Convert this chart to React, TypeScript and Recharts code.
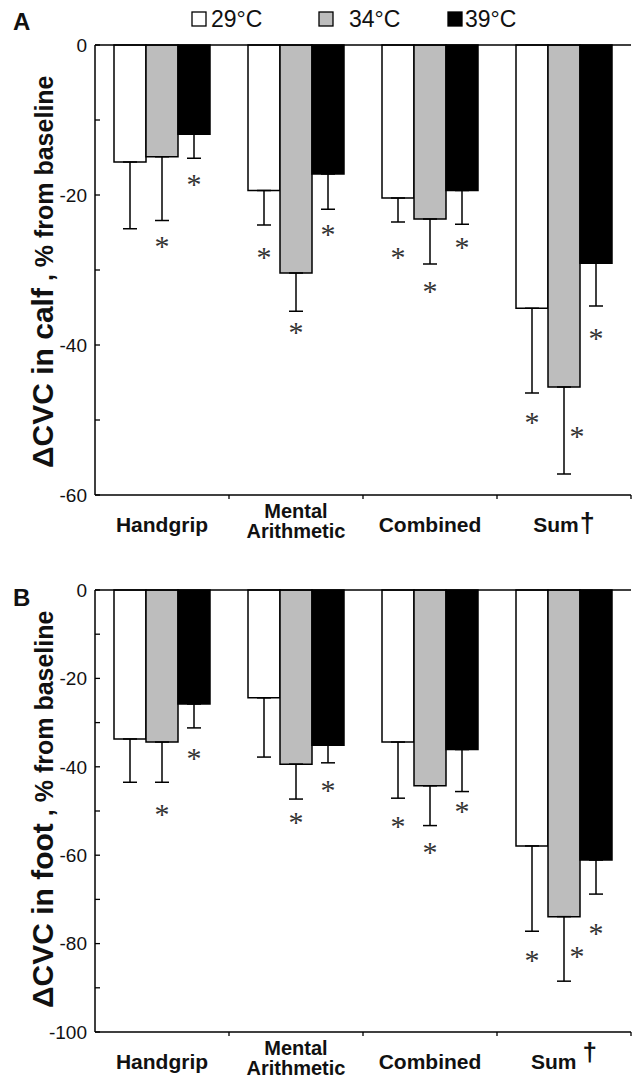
import { BarChart, Bar, XAxis, YAxis, ErrorBar, LabelList, ReferenceLine } from "recharts";

const categories = ["Handgrip", "Mental Arithmetic", "Combined", "Sum"];
const temps = ["29°C", "34°C", "39°C"];

// Panel A - calf
const calfMean29 = [-15.6, -19.4, -20.4, -35.1];
const calfMean34 = [-14.9, -30.4, -23.2, -45.6];
const calfMean39 = [-11.9, -17.2, -19.4, -29.1];
const calfSd29 = [8.9, 4.6, 3.2, 11.3];
const calfSd34 = [8.5, 5.1, 6.0, 11.6];
const calfSd39 = [3.2, 4.7, 4.5, 5.7];
// where the * marks sit (null = not significant)
const calfStar29 = [null, -27.7, -27.7, -49.7];
const calfStar34 = [-26.3, -37.7, -32.3, -51.6];
const calfStar39 = [-18.0, -24.7, -26.4, -38.5];

// Panel B - foot
const footMean29 = [-33.7, -24.4, -34.4, -57.9];
const footMean34 = [-34.4, -39.4, -44.3, -73.9];
const footMean39 = [-25.8, -35.1, -36.1, -61.1];
const footSd29 = [9.8, 13.4, 12.7, 19.3];
const footSd34 = [9.1, 7.9, 9.0, 14.6];
const footSd39 = [5.4, 4.0, 9.5, 7.7];
const footStar29 = [null, null, -52.5, -82.8];
const footStar34 = [-49.8, -51.6, -58.4, -81.9];
const footStar39 = [-37.1, -44.3, -49.2, -76.7];

const calfTicks = [0, -10, -20, -30, -40, -50, -60];
const footTicks = [0, -10, -20, -30, -40, -50, -60, -70, -80, -90, -100];

const FONT = "'Liberation Sans', Arial, Helvetica, sans-serif";
const AXIS_X = 95;
const PLOT_RIGHT = 631;
const HALF_BAND = (PLOT_RIGHT - AXIS_X) / categories.length / 2;

type Row = Record<string, any>;

function buildRows(
  m29: number[], m34: number[], m39: number[],
  s29: number[], s34: number[], s39: number[],
  a29: (number | null)[], a34: (number | null)[], a39: (number | null)[]
): Row[] {
  return categories.map((name, i) => ({
    name,
    m29: m29[i], m34: m34[i], m39: m39[i],
    e29: [s29[i], 0], e34: [s34[i], 0], e39: [s39[i], 0],
    a29: a29[i], a34: a34[i], a39: a39[i],
  }));
}

const calfRows = buildRows(calfMean29, calfMean34, calfMean39, calfSd29, calfSd34, calfSd39, calfStar29, calfStar34, calfStar39);
const footRows = buildRows(footMean29, footMean34, footMean39, footSd29, footSd34, footSd39, footStar29, footStar34, footStar39);

function makeStar(rows: Row[], key: string) {
  return (props: any) => {
    const { index } = props;
    const row = rows[index];
    if (!row) return null;
    const star = row["a" + key];
    if (star == null) return null;
    const vb = props.viewBox ?? props;
    const x = Number(vb.x), y = Number(vb.y), w = Number(vb.width), h = Number(vb.height);
    const mean = row["m" + key];
    const top = Math.min(y, y + h);
    const ppu = Math.abs(h) / Math.abs(mean);
    const sy = top + Math.abs(star) * ppu;
    const errEnd = mean - row["e" + key][0];
    const shift = star > errEnd ? 13 : 0;
    return (
      <text
        x={x + w / 2 + shift}
        y={sy + 14}
        textAnchor="middle"
        fontSize={30}
        fontFamily="'Liberation Serif', 'Times New Roman', serif"
        fill="#333"
        style={{ fill: "#333" }}
      >
        *
      </text>
    );
  };
}

function YTick(props: any) {
  const { y, payload } = props;
  const v = payload.value;
  return (
    <g>
      <line x1={AXIS_X} x2={AXIS_X + 5} y1={y} y2={y} stroke="#000" strokeWidth={1.3} />
      {v % 20 === 0 && (
        <text x={AXIS_X - 8} y={y} dy="0.36em" textAnchor="end" fontSize={19} fontFamily={FONT} fill="#111">
          {v}
        </text>
      )}
    </g>
  );
}

function XTick(props: any) {
  const { x, y, payload, dagger } = props;
  const label: string = payload.value;
  const lines = label.split(" ");
  const bx = x + HALF_BAND;
  return (
    <g>
      <line x1={bx} x2={bx} y1={y} y2={y + 4} stroke="#000" strokeWidth={1.3} />
      {label === "Sum" ? (
        <text x={x} y={y + 37} textAnchor="middle" fontSize={21} fontWeight="bold" fontFamily={FONT} fill="#111">
          Sum
          {dagger === "raised" ? (
            <tspan dx={6} dy={-8} fontSize={26}>†</tspan>
          ) : (
            <tspan dx={1} fontSize={27}>†</tspan>
          )}
        </text>
      ) : lines.length > 1 ? (
        <text textAnchor="middle" fontSize={20} fontWeight="bold" fontFamily={FONT} fill="#111">
          <tspan x={x} y={y + 23}>{lines[0]}</tspan>
          <tspan x={x} y={y + 43}>{lines[1]}</tspan>
        </text>
      ) : (
        <text x={x} y={y + 37} textAnchor="middle" fontSize={21} fontWeight="bold" fontFamily={FONT} fill="#111">
          {label}
        </text>
      )}
    </g>
  );
}

type PanelProps = {
  rows: Row[];
  domain: [number, number];
  ticks: number[];
  height: number;
  top: number;
  marginTop: number;
  marginBottom: number;
  xHeight: number;
  dagger: string;
};

function Panel({ rows, domain, ticks, height, top, marginTop, marginBottom, xHeight, dagger }: PanelProps) {
  const fills: Record<string, string> = { "29": "#ffffff", "34": "#bdbdbd", "39": "#000000" };
  return (
    <div style={{ position: "absolute", left: 0, top }}>
      <BarChart
        width={638}
        height={height}
        data={rows}
        margin={{ top: marginTop, right: 638 - PLOT_RIGHT, bottom: marginBottom, left: 35 }}
        barGap={0}
        barSize={32}
      >
        <XAxis
          dataKey="name"
          interval={0}
          tickLine={false}
          tickSize={0}
          tickMargin={0}
          height={xHeight}
          axisLine={{ stroke: "#000", strokeWidth: 1.5 }}
          tick={<XTick dagger={dagger} />}
        />
        <YAxis
          type="number"
          domain={domain}
          ticks={ticks}
          interval={0}
          width={60}
          tickLine={false}
          tickSize={0}
          axisLine={{ stroke: "#000", strokeWidth: 1.5 }}
          tick={<YTick />}
        />
        {["29", "34", "39"].map((k) => (
          <Bar
            key={k}
            dataKey={"m" + k}
            fill={fills[k]}
            stroke="#000"
            strokeWidth={1.5}
            isAnimationActive={false}
          >
            <ErrorBar dataKey={"e" + k} direction="y" width={7} stroke="#000" strokeWidth={1.5} />
            <LabelList dataKey={"m" + k} content={makeStar(rows, k)} />
          </Bar>
        ))}
        <ReferenceLine y={0} stroke="#000" strokeWidth={1.5} />
      </BarChart>
    </div>
  );
}

function Overlay() {
  const legendItems = [
    { sq: 192, tx: 211, fill: "#ffffff" },
    { sq: 319, tx: 349, fill: "#bdbdbd" },
    { sq: 448, tx: 465, fill: "#000000" },
  ];
  return (
    <svg
      width={638}
      height={1081}
      style={{ position: "absolute", left: 0, top: 0, pointerEvents: "none" }}
    >
      <text x={13} y={30} fontSize={24} fontWeight="bold" fontFamily={FONT} fill="#111">A</text>
      <text x={13} y={606} fontSize={24} fontWeight="bold" fontFamily={FONT} fill="#111">B</text>
      {legendItems.map((it, i) => (
        <g key={temps[i]}>
          <rect x={it.sq} y={12} width={14} height={14} fill={it.fill} stroke="#000" strokeWidth={1.3} />
          <text x={it.tx} y={27} fontSize={23} fontFamily={FONT} fill="#111">{temps[i]}</text>
        </g>
      ))}
      <text
        transform="translate(53,468) rotate(-90)"
        fontSize={30}
        fontWeight="bold"
        fontFamily={FONT}
        fill="#111"
      >
        ΔCVC in calf<tspan fontSize={25}> , % from baseline</tspan>
      </text>
      <text
        transform="translate(53,1008) rotate(-90)"
        fontSize={30}
        fontWeight="bold"
        fontFamily={FONT}
        fill="#111"
      >
        ΔCVC in foot<tspan fontSize={25}> , % from baseline</tspan>
      </text>
    </svg>
  );
}

export default function App() {
  return (
    <div style={{ position: "absolute", left: 0, top: 0, width: 638, height: 1081, background: "#fff", overflow: "hidden" }}>
      <Panel
        rows={calfRows}
        domain={[-60, 0]}
        ticks={calfTicks}
        height={560}
        top={0}
        marginTop={45}
        marginBottom={5}
        xHeight={60}
        dagger="level"
      />
      <Panel
        rows={footRows}
        domain={[-100, 0]}
        ticks={footTicks}
        height={541}
        top={540}
        marginTop={50}
        marginBottom={4}
        xHeight={45}
        dagger="raised"
      />
      <Overlay />
    </div>
  );
}
